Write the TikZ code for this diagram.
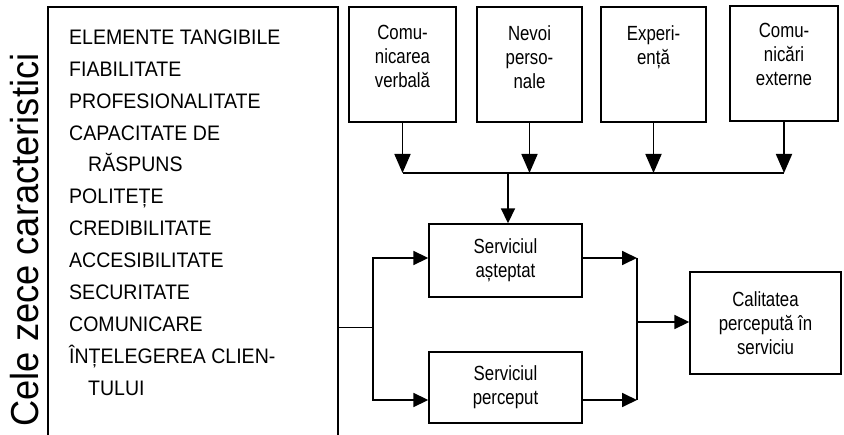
\documentclass[tikz,border=0pt]{standalone}
\usepackage{fontspec}
\setmainfont{Liberation Sans}
\newfontfamily\narrowsans[FakeStretch=0.82]{Liberation Sans}
\newfontfamily\listsans[FakeStretch=0.93]{Liberation Sans}
\usetikzlibrary{arrows.meta}
\begin{document}
\begin{tikzpicture}[x=1pt,y=-1pt,
  box/.style={draw, line width=1.4pt, inner sep=0pt},
  btext/.style={align=center, inner sep=0pt, font=\narrowsans\fontsize{20.5}{24}\selectfont},
  link/.style={line width=1.8pt},
  arr/.style={link, -{Triangle[length=15pt,width=14pt]}},
  arrtop/.style={link, -{Triangle[length=19pt,width=16pt]}}
]
\fill[white] (0,0) rectangle (844,435);
\useasboundingbox (0,0) rectangle (844,435);

% vertical title
\node[rotate=90, anchor=base, inner sep=0pt, font=\listsans\fontsize{39}{42}\selectfont]
  (title) at (38,240) {Cele zece caracteristici};

% frame of the ten characteristics (open at the bottom)
\draw[line width=1.2pt] (48,440) -- (48,7) -- (338,7) -- (338,440);
\node[anchor=north west, align=left, inner sep=0pt, font=\listsans\fontsize{21}{31.9}\selectfont]
  (list) at (69,29.5) {ELEMENTE TANGIBILE\\
FIABILITATE\\
PROFESIONALITATE\\
CAPACITATE DE\\
\hspace*{19pt}RĂSPUNS\\
POLITEȚE\\
CREDIBILITATE\\
ACCESIBILITATE\\
SECURITATE\\
COMUNICARE\\
ÎNȚELEGEREA CLIEN-\\
\hspace*{19pt}TULUI};

% top factor boxes
\node[box, minimum width=107pt, minimum height=115pt] (c1) at (402.5,64.5) {};
\node[box, minimum width=105pt, minimum height=115pt] (c2) at (529.5,64.5) {};
\node[box, minimum width=105pt, minimum height=115pt] (c3) at (653.5,64.5) {};
\node[box, minimum width=108pt, minimum height=115pt] (c4) at (784,63.5) {};
\node[btext, anchor=north] (c1t) at (402.5,25) {Comu-\\nicarea\\verbală};
\node[btext, anchor=north] (c2t) at (529.5,25) {Nevoi\\perso-\\nale};
\node[btext, anchor=north] (c3t) at (653.5,25) {Experi-\\ență};
\node[btext, anchor=north] (c4t) at (784,23) {Comu-\\nicări\\externe};

% service boxes
\node[box, minimum width=153pt, minimum height=73pt, btext] (sa) at (505.5,260.5) {Serviciul\\așteptat};
\node[box, minimum width=153pt, minimum height=71pt, btext] (sp) at (505.5,387.5) {Serviciul\\perceput};
\node[box, minimum width=151pt, minimum height=102pt, btext] (cal) at (765.5,323) {Calitatea\\percepută în\\serviciu};

% collecting bus under the top boxes
\coordinate (busJ) at (508,173);
\draw[arrtop] (c1.south) -- (c1.south |- busJ);
\draw[arrtop] (c2.south) -- (c2.south |- busJ);
\draw[arrtop] (c3.south) -- (c3.south |- busJ);
\draw[arrtop] (c4.south) -- (c4.south |- busJ);
\draw[line width=1.6pt] (c1.south |- busJ) -- (c4.south |- busJ);
\draw[arr] (busJ) -- (busJ |- sa.north);

% from the characteristics frame to both service boxes
\coordinate (split) at (338,328);
\coordinate (fork) at (373,328);
\draw[line width=1pt] (split) -- (fork);
\draw[arr] (fork) |- ([yshift=2.5pt]sa.west);
\draw[arr] (fork) |- ([yshift=-12.5pt]sp.west);

% merge into perceived quality
\coordinate (jT) at (637,258);
\coordinate (jB) at (637,400);
\coordinate (jM) at (637,322);
\draw[arr] ([yshift=2.5pt]sa.east) -- (jT);
\draw[arr] ([yshift=-12.5pt]sp.east) -- (jB);
\draw[link] (jT) -- (jB);
\draw[arr] (jM) -- (cal.west |- jM);
\end{tikzpicture}
\end{document}
